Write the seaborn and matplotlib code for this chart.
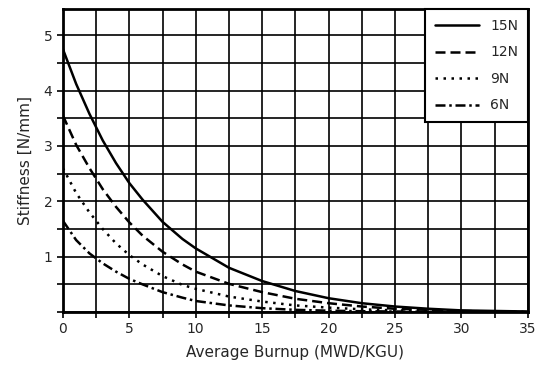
import pandas as pd
import matplotlib
matplotlib.use("Agg")
import matplotlib.pyplot as plt
import seaborn as sns
from matplotlib.ticker import MultipleLocator

# Valores
burnup = [0, 1, 2, 3, 4, 5, 6, 7.5, 9, 10, 12.5, 15, 17.5, 20, 22.5, 25, 27.5, 30, 32.5, 35]
stiff_15n = [4.75, 4.12, 3.58, 3.10, 2.69, 2.33, 2.03, 1.63, 1.32, 1.15, 0.80, 0.56, 0.38, 0.25, 0.16, 0.10, 0.06, 0.03, 0.02, 0.01]
stiff_12n = [3.55, 3.02, 2.60, 2.22, 1.90, 1.62, 1.38, 1.09, 0.86, 0.73, 0.51, 0.36, 0.24, 0.16, 0.10, 0.06, 0.04, 0.02, 0.01, 0.0]
stiff_9n = [2.60, 2.15, 1.80, 1.50, 1.24, 1.03, 0.86, 0.65, 0.49, 0.42, 0.28, 0.19, 0.12, 0.08, 0.05, 0.03, 0.02, 0.01, 0.005, 0.0]
stiff_6n = [1.65, 1.30, 1.06, 0.88, 0.73, 0.60, 0.50, 0.36, 0.26, 0.20, 0.12, 0.07, 0.04, 0.025, 0.015, 0.01, 0.005, 0.0, 0.0, 0.0]
cargas = ["15N", "12N", "9N", "6N"]

series = {"15N": stiff_15n, "12N": stiff_12n, "9N": stiff_9n, "6N": stiff_6n}
df = pd.concat(
    [pd.DataFrame({"burnup": burnup, "stiffness": v, "carga": k}) for k, v in series.items()],
    ignore_index=True,
)

sns.set_style("white")
plt.rcParams["font.family"] = ["DejaVu Sans"]

fig = plt.figure(figsize=(5.42, 3.68), dpi=100)
ax = fig.add_axes([0.116, 0.152, 0.858, 0.823])

sns.lineplot(
    data=df, x="burnup", y="stiffness", hue="carga", style="carga",
    hue_order=cargas, style_order=cargas,
    palette={c: "black" for c in cargas},
    dashes={"15N": "", "12N": (4, 2), "9N": (1, 2.2), "6N": (4, 1.5, 1, 1.5)},
    linewidth=1.8, ax=ax, zorder=3,
)

ax.set_xlim(0, 35)
ax.set_ylim(0, 5.47)
ax.xaxis.set_major_locator(MultipleLocator(5))
ax.xaxis.set_minor_locator(MultipleLocator(2.5))
ax.yaxis.set_major_locator(MultipleLocator(1))
ax.yaxis.set_minor_locator(MultipleLocator(0.5))
ax.set_yticks([1, 2, 3, 4, 5])
ax.grid(True, which="both", color="black", linewidth=1.2)
ax.tick_params(which="both", direction="out", length=4, width=1.2, color="black",
               bottom=True, left=True, labelsize=10)
for s in ax.spines.values():
    s.set_color("black")
    s.set_linewidth(2)

ax.set_xlabel("Average Burnup (MWD/KGU)", fontsize=11, labelpad=6)
ax.set_ylabel("Stiffness [N/mm]", fontsize=11, labelpad=8)

handles, labels = ax.get_legend_handles_labels()
leg = ax.legend(handles, labels, loc="upper right", frameon=True, fancybox=False,
                edgecolor="black", framealpha=1, fontsize=10, handlelength=3.2,
                labelspacing=0.9, borderaxespad=0.0, borderpad=0.7)
leg.get_frame().set_linewidth(1.5)
leg.set_zorder(5)

fig.savefig("out.png", dpi=100)
